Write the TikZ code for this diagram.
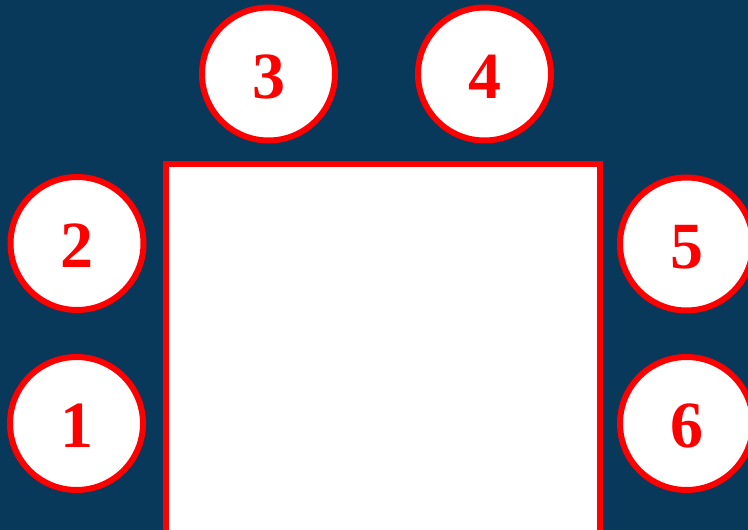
\documentclass[tikz,border=0pt]{standalone}
\usepackage{fontspec}
\setmainfont{Liberation Serif}
\usepackage{tikz}
\definecolor{navybg} {RGB}{8,  56,  90}
\definecolor{redclr} {RGB}{255, 0,   0}
\tikzset{
  seat/.style={circle, draw=redclr, line width=6pt, fill=white,
    minimum size=133pt, inner sep=0pt, text=redclr,
    text height=48.5pt, text depth=0pt,
    font=\fontsize{66}{66}\selectfont\bfseries},
  tablebox/.style={draw=redclr, line width=5.5pt, fill=white}
}
\begin{document}
\begin{tikzpicture}[x=1pt, y=-1pt]
  % background
  \fill[navybg] (0,0) rectangle (748,530);
  \useasboundingbox (0,0) rectangle (748,530);
  % table
  \draw[tablebox] (166,164) rectangle (600,540);
  % seats
  \node[seat] (seat1) at (76.5,423.5) {1};
  \node[seat] (seat2) at (77,243.5) {2};
  \node[seat] (seat3) at (268.5,74) {3};
  \node[seat] (seat4) at (484.5,74) {4};
  \node[seat] (seat5) at (686.5,244) {5};
  \node[seat] (seat6) at (686.5,423.5) {6};
\end{tikzpicture}
\end{document}
